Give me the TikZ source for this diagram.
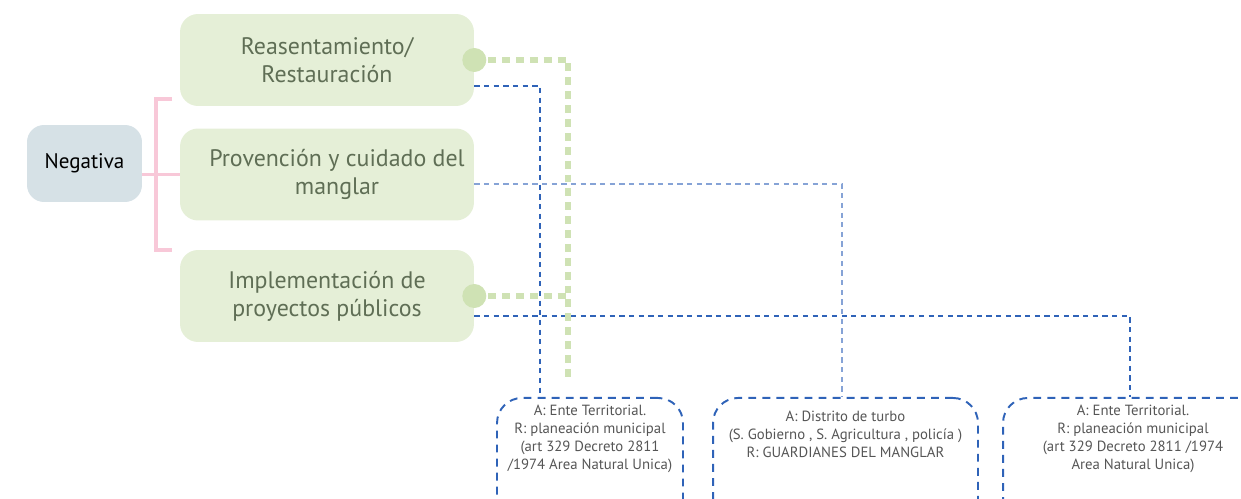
\documentclass[tikz,border=0pt]{standalone}
\usepackage{fontspec}
\setmainfont{PT Sans}
\usetikzlibrary{positioning}

\definecolor{negfill}{HTML}{D6E1E6}
\definecolor{boxfill}{HTML}{E5EFD7}
\definecolor{boxtext}{HTML}{5F6E55}
\definecolor{brace}{HTML}{F8C8D8}
\definecolor{dotgreen}{HTML}{CFE2B4}
\definecolor{linkblue}{HTML}{2F63B8}
\definecolor{paleblue}{HTML}{86A3D6}
\definecolor{infotext}{HTML}{555555}

\begin{document}
\begin{tikzpicture}[
    x=0.02cm, y=-0.02cm,
    every node/.style={font=\rmfamily},
    root/.style={rectangle, rounded corners=0.34cm, fill=negfill, minimum width=2.3cm, minimum height=1.54cm, font=\rmfamily\large},
    action/.style={rectangle, rounded corners=0.36cm, fill=boxfill, minimum width=5.88cm, minimum height=1.84cm, align=center, text=boxtext, font=\fontsize{13.6pt}{15.8pt}\selectfont},
    knob/.style={circle, fill=dotgreen, minimum size=0.48cm, inner sep=0pt},
    info/.style={rectangle, rounded corners=0.5cm, draw=linkblue, line width=1.1pt, dash pattern=on 4.5pt off 3.5pt, minimum height=2.8cm, anchor=north},
    infotxt/.style={align=center, text=infotext, font=\fontsize{8.4pt}{10.2pt}\selectfont, inner sep=0pt, anchor=north},
    link/.style={draw=linkblue, line width=0.6pt, dash pattern=on 3pt off 2.5pt},
    paths/.style={draw=dotgreen, line width=3.4pt, dash pattern=on 4.5pt off 3.4pt}
]

\useasboundingbox (0,0) rectangle (1241,499);
\clip (0,0) rectangle (1241,499);

% Root and the three actions
\node[root] (neg) at (84.5,163.5) {Negativa};
\node[action] (reas) at (327,60) {Reasentamiento/\\Restauración};
\node[action] (prov) at (327,174.5) {\hspace*{0.4cm}Provención y cuidado del\\\hspace*{0.4cm}manglar};
\node[action] (impl) at (327,296) {Implementación de\\proyectos públicos};

% Bracket
\draw[brace, line width=2.2pt] (172,99) -- (156,99) -- (156,250) -- (172,250);
\draw[brace, line width=2.2pt] (neg.east |- prov.west) -- (prov.west);

% Info boxes
\node[info, minimum width=3.72cm] (infoA) at (590,397) {};
\node[info, minimum width=5.3cm] (infoB) at (845.5,397) {};
\node[info, minimum width=5.2cm] (infoC) at (1133,397) {};

\node[infotxt] (txtA) at ([yshift=-0.16cm]infoA.north) {A: Ente Territorial.\\R: planeación municipal\\(art 329 Decreto 2811\\/1974 Area Natural Unica)};
\node[infotxt] (txtB) at ([yshift=-0.27cm]infoB.north) {A: Distrito de turbo\\(S. Gobierno , S. Agricultura , policía )\\R: GUARDIANES DEL MANGLAR};
\node[infotxt] (txtC) at ([yshift=-0.16cm]infoC.north) {A: Ente Territorial.\\R: planeación municipal\\(art 329 Decreto 2811 /1974\\Area Natural Unica)};

% Blue links
\coordinate (ra) at (540,86);
\coordinate (pb) at (842,184);
\coordinate (ic) at (1130,316);
\draw[link] (reas.east |- ra) -- (ra) -- (ra |- infoA.north);
\draw[link, draw=paleblue] (prov.east |- pb) -- (pb) -- (pb |- infoB.north);
\draw[link] (impl.east |- ic) -- (ic) -- (ic |- infoC.north);

% Green dotted paths
\node[knob] (k1) at (reas.east) {};
\node[knob] (k2) at (impl.east) {};
\coordinate (gt) at (568,60);
\coordinate (gb) at (568,377);
\draw[paths] (k1.center) -- (gt) -- (gb);
\draw[paths] (k2.center) -- (k2.center -| gt);

\end{tikzpicture}
\end{document}
